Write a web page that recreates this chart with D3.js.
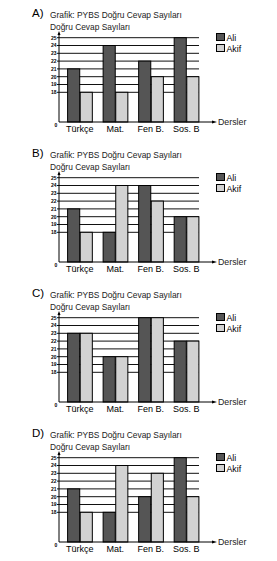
<!DOCTYPE html>
<html><head><meta charset="utf-8">
<script src="https://cdn.jsdelivr.net/npm/d3@7"></script>
<style>body{margin:0;background:#fff}svg{display:block}</style>
</head><body>
<script>
const categories = ["Türkçe", "Mat.", "Fen B.", "Sos. B"];
const panelLabels = ["A)", "B)", "C)", "D)"];
const seriesNames = ["Ali", "Akif"];
const aliA = [21, 24, 22, 25], akifA = [18, 18, 20, 20];
const aliB = [21, 18, 24, 20], akifB = [18, 24, 22, 20];
const aliC = [23, 20, 25, 22], akifC = [23, 20, 25, 22];
const aliD = [21, 18, 20, 25], akifD = [18, 24, 23, 20];
const yTicks = [18, 19, 20, 21, 22, 23, 24, 25];
const titleText = "Grafik: PYBS Doğru Cevap Sayıları";
const yTitle = "Doğru Cevap Sayıları";
const xTitle = "Dersler";

const panels = [[aliA, akifA], [aliB, akifB], [aliC, akifC], [aliD, akifD]];
const colors = ["#555555", "#d2d2d2"];
const W = 277, H = 561;
const svg = d3.select("body").append("svg").attr("width", W).attr("height", H)
  .style("font-family", "'Liberation Sans', Arial, sans-serif");

const y = d3.scaleLinear().domain([0, 18, 25]).range([122, 92.3, 37.7]);
const x0 = d3.scaleBand().domain(categories).range([60, 206]).paddingInner(0.29).paddingOuter(0.2);
const x1 = d3.scaleBand().domain(seriesNames).range([0, x0.bandwidth()]);
const axX = 59;

panels.forEach((p, i) => {
  const g = svg.append("g").attr("transform", `translate(0,${i * 140})`);
  g.append("text").attr("x", 32).attr("y", 17).attr("font-size", 11.5).text(panelLabels[i]);
  g.append("text").attr("x", 50).attr("y", 18).attr("font-size", 8.4).attr("fill", "#222").text(titleText);
  g.append("text").attr("x", 50).attr("y", 29.5).attr("font-size", 8.4).attr("fill", "#222").text(yTitle);

  // gridlines
  g.selectAll("line.grid").data(yTicks).enter().append("line")
    .attr("x1", axX - 2).attr("x2", 199)
    .attr("y1", d => y(d)).attr("y2", d => y(d))
    .attr("stroke", "#111").attr("stroke-width", 1);
  g.selectAll("text.tick").data(yTicks).enter().append("text")
    .attr("x", 56.5).attr("y", d => y(d) + 1.8).attr("text-anchor", "end")
    .attr("font-size", 5).attr("font-weight", "bold").text(d => d);
  g.append("text").attr("x", 56).attr("y", 127).attr("text-anchor", "middle")
    .attr("font-size", 5).attr("font-weight", "bold").text("0");

  // bars
  const data = categories.map((c, k) => ({c, vals: [p[0][k], p[1][k]]}));
  const grp = g.selectAll("g.cat").data(data).enter().append("g")
    .attr("transform", d => `translate(${x0(d.c)},0)`);
  grp.selectAll("rect").data(d => d.vals.map((v, s) => ({v, s}))).enter().append("rect")
    .attr("x", d => x1(seriesNames[d.s]) + 0.5)
    .attr("width", x1.bandwidth() - 0.5)
    .attr("y", d => y(d.v)).attr("height", d => y(0) - y(d.v))
    .attr("fill", d => colors[d.s]).attr("stroke", "#000").attr("stroke-width", 1);

  // axes
  g.append("line").attr("x1", axX).attr("x2", axX).attr("y1", y(0)).attr("y2", 33).attr("stroke", "#000");
  g.append("path").attr("d", `M${axX - 1.5},35 L${axX},31 L${axX + 1.5},35 Z`).attr("fill", "#000");
  g.append("line").attr("x1", axX).attr("x2", 214).attr("y1", y(0)).attr("y2", y(0)).attr("stroke", "#000");
  g.append("path").attr("d", `M212,${y(0) - 1.5} L217,${y(0)} L212,${y(0) + 1.5} Z`).attr("fill", "#000");
  g.append("text").attr("x", 218).attr("y", y(0) + 3).attr("font-size", 8.8).attr("fill", "#222").text(xTitle);

  g.selectAll("text.cat").data(categories).enter().append("text")
    .attr("x", d => x0(d) + x0.bandwidth() / 2).attr("y", 131.5)
    .attr("text-anchor", "middle").attr("font-size", 9).text(d => d);

  // legend
  seriesNames.forEach((s, k) => {
    g.append("rect").attr("x", 216.5).attr("y", 33.5 + k * 11).attr("width", 8).attr("height", 7)
      .attr("fill", colors[k]).attr("stroke", "#000");
    g.append("text").attr("x", 226.5).attr("y", 40.5 + k * 11).attr("font-size", 8.8).text(s);
  });
});
</script>
</body></html>
